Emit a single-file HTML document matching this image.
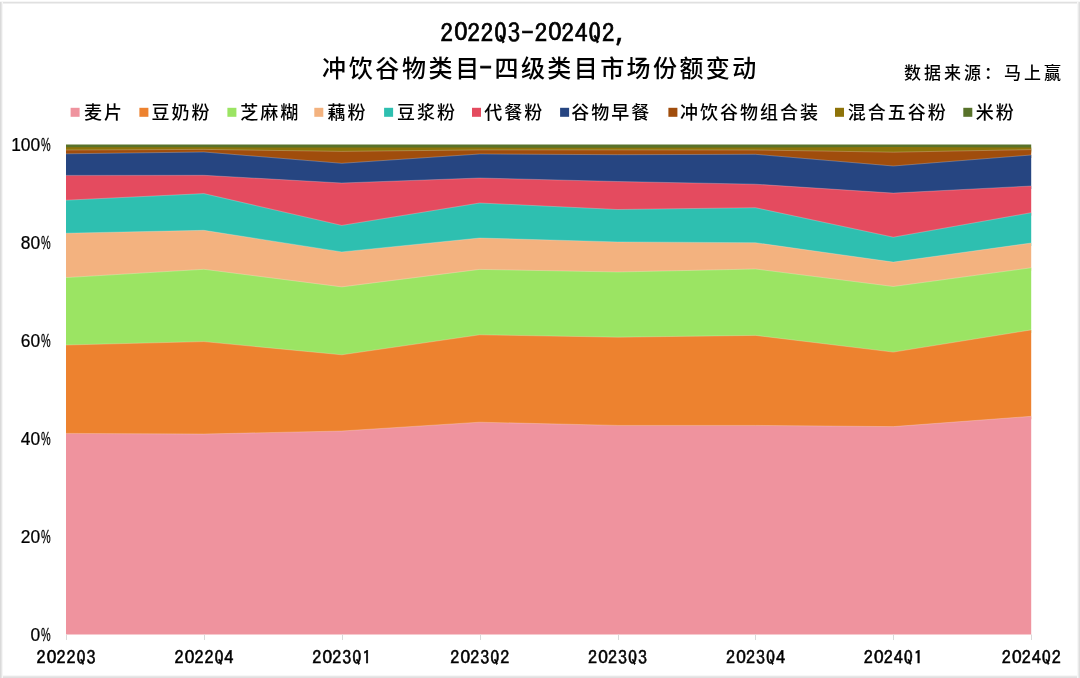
<!DOCTYPE html>
<html><head><meta charset="utf-8"><style>
html,body{margin:0;padding:0;background:#fff;}
svg{display:block;}
text{filter:grayscale(1);}
.cj{font-family:"Liberation Sans","Noto Sans CJK SC",sans-serif;fill:#000;font-weight:500;}
.lg{font-size:18px;letter-spacing:2px;}
.ax{font-family:"Liberation Sans","Noto Sans CJK SC",sans-serif;font-size:18.7px;fill:#000;}
.ipa{font-family:"IPAGothic","Liberation Mono",monospace;fill:#000;}
.z{font-family:"Noto Sans CJK SC","Liberation Sans",sans-serif;}
.t1i{font-size:24.8px;letter-spacing:1.05px;}
.xl{font-size:18.2px;letter-spacing:0.9px;}
.t2{font-size:24px;letter-spacing:2.63px;}
.src{font-size:17px;letter-spacing:3px;}
</style></head><body>
<svg width="1080" height="678" viewBox="0 0 1080 678">
<rect x="0" y="0" width="1080" height="678" fill="#fff"/>
<rect x="0" y="1" width="1080" height="1" fill="#f6f6f6"/>
<rect x="0" y="2" width="1080" height="1" fill="#e0e0e0"/>
<rect x="0" y="3" width="1080" height="1" fill="#efefef"/>
<rect x="0" y="675" width="1080" height="1" fill="#f7f7f7"/>
<rect x="0" y="676" width="1080" height="1" fill="#e7e7e7"/>
<rect x="0" y="677" width="1080" height="1" fill="#e0e0e0"/>
<rect x="2" y="2" width="1" height="676" fill="#f6f6f6"/>
<rect x="1" y="2" width="1" height="676" fill="#e6e6e6"/>
<rect x="0" y="2" width="1" height="676" fill="#dadada"/>
<rect x="1077" y="2" width="1" height="676" fill="#f7f7f7"/>
<rect x="1078" y="2" width="1" height="676" fill="#eaeaea"/>
<rect x="1079" y="2" width="1" height="676" fill="#dedede"/>
<text x="440.5" y="41.6" class="ipa t1i" stroke="#000" stroke-width="0.7">2<tspan class="z" dy="-1.36" style="letter-spacing:-0.31px">0</tspan><tspan dy="1.36">22Q3-2</tspan><tspan class="z" dy="-1.36" style="letter-spacing:-0.31px">0</tspan><tspan dy="1.36">24Q2,</tspan></text>
<text x="322" y="77" class="cj t2">冲饮谷物类目</text>
<text x="479.6" y="77.2" class="ipa" style="font-size:25px" stroke="#000" stroke-width="0.9" textLength="12.4" lengthAdjust="spacingAndGlyphs">-</text>
<text x="494.5" y="77" class="cj t2" style="letter-spacing:2.42px">四级类目市场份额变动</text>
<text x="904" y="78.5" class="cj src">数据来源：马上赢</text>
<rect x="70.6" y="107.8" width="9" height="9" fill="#ef939e"/>
<text x="84.1" y="118.5" class="cj lg">麦片</text>
<rect x="139.4" y="107.8" width="9" height="9" fill="#ed822f"/>
<text x="151.6" y="118.5" class="cj lg">豆奶粉</text>
<rect x="227.4" y="107.8" width="9" height="9" fill="#9be463"/>
<text x="240.2" y="118.5" class="cj lg">芝麻糊</text>
<rect x="314.3" y="107.8" width="9" height="9" fill="#f3b27f"/>
<text x="327.5" y="118.5" class="cj lg">藕粉</text>
<rect x="384.1" y="107.8" width="9" height="9" fill="#2ebfb0"/>
<text x="397.1" y="118.5" class="cj lg">豆浆粉</text>
<rect x="472" y="107.8" width="9" height="9" fill="#e44b5f"/>
<text x="484.3" y="118.5" class="cj lg">代餐粉</text>
<rect x="560.1" y="107.8" width="9" height="9" fill="#264581"/>
<text x="571.3" y="118.5" class="cj lg">谷物早餐</text>
<rect x="668.4" y="107.8" width="9" height="9" fill="#a04d0c"/>
<text x="679.9" y="118.5" class="cj lg">冲饮谷物组合装</text>
<rect x="835" y="107.8" width="9" height="9" fill="#8e7309"/>
<text x="847.8" y="118.5" class="cj lg">混合五谷粉</text>
<rect x="963.3" y="107.8" width="9" height="9" fill="#58722a"/>
<text x="975.8" y="118.5" class="cj lg">米粉</text>
<polygon points="66,144.6 203.89,144.6 341.77,144.6 479.66,144.6 617.54,144.6 755.43,144.6 893.31,144.6 1031.2,144.6 1031.2,150.6 893.31,149.9 755.43,150.5 617.54,150.8 479.66,150.6 341.77,150.6 203.89,150.3 66,150.3" fill="#58722a"/>
<polygon points="66,147.3 203.89,147.3 341.77,147.6 479.66,147.6 617.54,147.8 755.43,147.5 893.31,146.9 1031.2,147.6 1031.2,152.6 893.31,155.2 755.43,153 617.54,152.9 479.66,152.9 341.77,154.4 203.89,152.4 66,153" fill="#8e7309"/>
<polygon points="66,150 203.89,149.4 341.77,151.4 479.66,149.9 617.54,149.9 755.43,150 893.31,152.2 1031.2,149.6 1031.2,158 893.31,169 755.43,157.3 617.54,157.7 479.66,157 341.77,166.3 203.89,155 66,156.8" fill="#a04d0c"/>
<polygon points="66,153.8 203.89,152 341.77,163.3 479.66,154 617.54,154.7 755.43,154.3 893.31,166 1031.2,155 1031.2,189 893.31,196.1 755.43,187.2 617.54,184.5 479.66,181 341.77,186 203.89,178.3 66,178.4" fill="#264581"/>
<polygon points="66,175.4 203.89,175.3 341.77,183 479.66,178 617.54,181.5 755.43,184.2 893.31,193.1 1031.2,186 1031.2,215.7 893.31,240.2 755.43,210.7 617.54,212.5 479.66,206 341.77,228.4 203.89,196.6 66,203.2" fill="#e44b5f"/>
<polygon points="66,200.2 203.89,193.6 341.77,225.4 479.66,203 617.54,209.5 755.43,207.7 893.31,237.2 1031.2,212.7 1031.2,246 893.31,265.1 755.43,245.7 617.54,244.9 479.66,241 341.77,254.9 203.89,233.3 66,236.2" fill="#2ebfb0"/>
<polygon points="66,233.2 203.89,230.3 341.77,251.9 479.66,238 617.54,241.9 755.43,242.7 893.31,262.1 1031.2,243 1031.2,270.8 893.31,289.5 755.43,272 617.54,275 479.66,272.4 341.77,289.9 203.89,272.3 66,280.6" fill="#f3b27f"/>
<polygon points="66,277.6 203.89,269.3 341.77,286.9 479.66,269.4 617.54,272 755.43,269 893.31,286.5 1031.2,267.8 1031.2,332.9 893.31,355.1 755.43,338.4 617.54,340.2 479.66,337.8 341.77,357.8 203.89,344.6 66,348" fill="#9be463"/>
<polygon points="66,345 203.89,341.6 341.77,354.8 479.66,334.8 617.54,337.2 755.43,335.4 893.31,352.1 1031.2,329.9 1031.2,419.3 893.31,429.6 755.43,428.4 617.54,428.4 479.66,425.2 341.77,434 203.89,437 66,436.4" fill="#ed822f"/>
<polygon points="66,433.4 203.89,434 341.77,431 479.66,422.2 617.54,425.4 755.43,425.4 893.31,426.6 1031.2,416.3 1031.2,634.5 66,634.5" fill="#ef939e"/>
<polyline points="66,150 203.89,149.4 341.77,151.4 479.66,149.9 617.54,149.9 755.43,150 893.31,152.2 1031.2,149.6" fill="none" stroke="#fff" stroke-opacity="0.3" stroke-width="0.8"/>
<polyline points="66,153.8 203.89,152 341.77,163.3 479.66,154 617.54,154.7 755.43,154.3 893.31,166 1031.2,155" fill="none" stroke="#fff" stroke-opacity="0.3" stroke-width="0.8"/>
<polyline points="66,175.4 203.89,175.3 341.77,183 479.66,178 617.54,181.5 755.43,184.2 893.31,193.1 1031.2,186" fill="none" stroke="#fff" stroke-opacity="0.3" stroke-width="0.8"/>
<polyline points="66,200.2 203.89,193.6 341.77,225.4 479.66,203 617.54,209.5 755.43,207.7 893.31,237.2 1031.2,212.7" fill="none" stroke="#fff" stroke-opacity="0.3" stroke-width="0.8"/>
<polyline points="66,233.2 203.89,230.3 341.77,251.9 479.66,238 617.54,241.9 755.43,242.7 893.31,262.1 1031.2,243" fill="none" stroke="#fff" stroke-opacity="0.3" stroke-width="0.8"/>
<polyline points="66,277.6 203.89,269.3 341.77,286.9 479.66,269.4 617.54,272 755.43,269 893.31,286.5 1031.2,267.8" fill="none" stroke="#fff" stroke-opacity="0.3" stroke-width="0.8"/>
<polyline points="66,345 203.89,341.6 341.77,354.8 479.66,334.8 617.54,337.2 755.43,335.4 893.31,352.1 1031.2,329.9" fill="none" stroke="#fff" stroke-opacity="0.3" stroke-width="0.8"/>
<polyline points="66,433.4 203.89,434 341.77,431 479.66,422.2 617.54,425.4 755.43,425.4 893.31,426.6 1031.2,416.3" fill="none" stroke="#fff" stroke-opacity="0.3" stroke-width="0.8"/>
<line x1="66.5" y1="634.5" x2="66.5" y2="640" stroke="#d9d9d9" stroke-width="1"/><line x1="204.5" y1="634.5" x2="204.5" y2="640" stroke="#d9d9d9" stroke-width="1"/><line x1="342.5" y1="634.5" x2="342.5" y2="640" stroke="#d9d9d9" stroke-width="1"/><line x1="480.5" y1="634.5" x2="480.5" y2="640" stroke="#d9d9d9" stroke-width="1"/><line x1="618.5" y1="634.5" x2="618.5" y2="640" stroke="#d9d9d9" stroke-width="1"/><line x1="755.5" y1="634.5" x2="755.5" y2="640" stroke="#d9d9d9" stroke-width="1"/><line x1="893.5" y1="634.5" x2="893.5" y2="640" stroke="#d9d9d9" stroke-width="1"/><line x1="1031.5" y1="634.5" x2="1031.5" y2="640" stroke="#d9d9d9" stroke-width="1"/>
<text transform="translate(40.2,150.8) scale(0.93,1)" class="ax" text-anchor="end" stroke="#000" stroke-width="0.25">100</text>
<text transform="translate(40.9,150.8) scale(0.58,1)" class="ax" stroke="#000" stroke-width="0.3">%</text>
<text transform="translate(40.2,248.78) scale(0.93,1)" class="ax" text-anchor="end" stroke="#000" stroke-width="0.25">80</text>
<text transform="translate(40.9,248.78) scale(0.58,1)" class="ax" stroke="#000" stroke-width="0.3">%</text>
<text transform="translate(40.2,346.76) scale(0.93,1)" class="ax" text-anchor="end" stroke="#000" stroke-width="0.25">60</text>
<text transform="translate(40.9,346.76) scale(0.58,1)" class="ax" stroke="#000" stroke-width="0.3">%</text>
<text transform="translate(40.2,444.74) scale(0.93,1)" class="ax" text-anchor="end" stroke="#000" stroke-width="0.25">40</text>
<text transform="translate(40.9,444.74) scale(0.58,1)" class="ax" stroke="#000" stroke-width="0.3">%</text>
<text transform="translate(40.2,542.72) scale(0.93,1)" class="ax" text-anchor="end" stroke="#000" stroke-width="0.25">20</text>
<text transform="translate(40.9,542.72) scale(0.58,1)" class="ax" stroke="#000" stroke-width="0.3">%</text>
<text transform="translate(40.2,640.7) scale(0.93,1)" class="ax" text-anchor="end" stroke="#000" stroke-width="0.25">0</text>
<text transform="translate(40.9,640.7) scale(0.58,1)" class="ax" stroke="#000" stroke-width="0.3">%</text>
<text x="66.5" y="664.2" class="ipa xl" text-anchor="middle" stroke="#000" stroke-width="0.5">2<tspan class="z" dy="-1" style="letter-spacing:-0.1px">0</tspan><tspan dy="1">22Q3</tspan></text>
<text x="204.39" y="664.2" class="ipa xl" text-anchor="middle" stroke="#000" stroke-width="0.5">2<tspan class="z" dy="-1" style="letter-spacing:-0.1px">0</tspan><tspan dy="1">22Q4</tspan></text>
<text x="342.27" y="664.2" class="ipa xl" text-anchor="middle" stroke="#000" stroke-width="0.5">2<tspan class="z" dy="-1" style="letter-spacing:-0.1px">0</tspan><tspan dy="1">23Q1</tspan></text>
<text x="480.16" y="664.2" class="ipa xl" text-anchor="middle" stroke="#000" stroke-width="0.5">2<tspan class="z" dy="-1" style="letter-spacing:-0.1px">0</tspan><tspan dy="1">23Q2</tspan></text>
<text x="618.04" y="664.2" class="ipa xl" text-anchor="middle" stroke="#000" stroke-width="0.5">2<tspan class="z" dy="-1" style="letter-spacing:-0.1px">0</tspan><tspan dy="1">23Q3</tspan></text>
<text x="755.93" y="664.2" class="ipa xl" text-anchor="middle" stroke="#000" stroke-width="0.5">2<tspan class="z" dy="-1" style="letter-spacing:-0.1px">0</tspan><tspan dy="1">23Q4</tspan></text>
<text x="893.81" y="664.2" class="ipa xl" text-anchor="middle" stroke="#000" stroke-width="0.5">2<tspan class="z" dy="-1" style="letter-spacing:-0.1px">0</tspan><tspan dy="1">24Q1</tspan></text>
<text x="1031.7" y="664.2" class="ipa xl" text-anchor="middle" stroke="#000" stroke-width="0.5">2<tspan class="z" dy="-1" style="letter-spacing:-0.1px">0</tspan><tspan dy="1">24Q2</tspan></text>
</svg>
</body></html>
